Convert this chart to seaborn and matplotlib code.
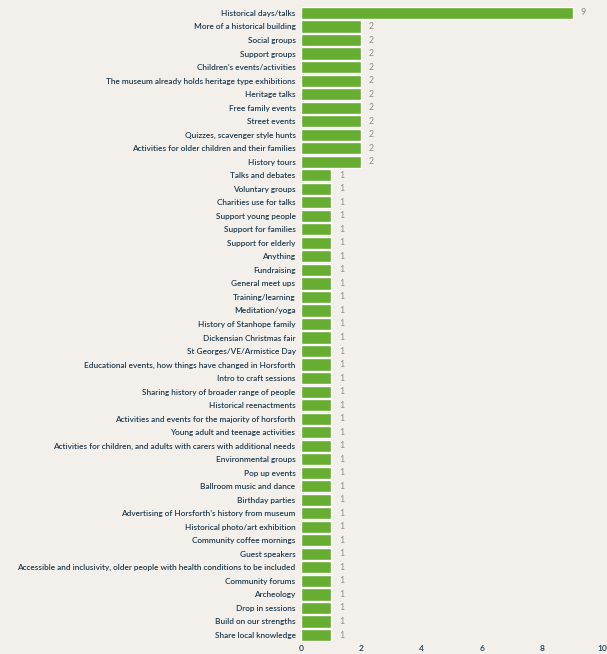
import matplotlib
matplotlib.use("Agg")
import matplotlib.pyplot as plt
import seaborn as sns
import pandas as pd

# ideas for the museum, counted
labels = [
    "Historical days/talks",
    "More of a historical building",
    "Social groups",
    "Support groups",
    "Children's events/activities",
    "The museum already holds heritage type exhibitions",
    "Heritage talks",
    "Free family events",
    "Street events",
    "Quizzes, scavenger style hunts",
    "Activities for older children and their families",
    "History tours",
    "Talks and debates",
    "Voluntary groups",
    "Charities use for talks",
    "Support young people",
    "Support for families",
    "Support for elderly",
    "Anything",
    "Fundraising",
    "General meet ups",
    "Training/learning",
    "Meditation/yoga",
    "History of Stanhope family",
    "Dickensian Christmas fair",
    "St Georges/VE/Armistice Day",
    "Educational events, how things have changed in Horsforth",
    "Intro to craft sessions",
    "Sharing history of broader range of people",
    "Historical reenactments",
    "Activities and events for the majority of horsforth",
    "Young adult and teenage activities",
    "Activities for children, and adults with carers with additional needs",
    "Environmental groups",
    "Pop up events",
    "Ballroom music and dance",
    "Birthday parties",
    "Advertising of Horsforth's history from museum",
    "Historical photo/art exhibition",
    "Community coffee mornings",
    "Guest speakers",
    "Accessible and inclusivity, older people with health conditions to be included",
    "Community forums",
    "Archeology",
    "Drop in sessions",
    "Build on our strengths",
    "Share local knowledge",
]
counts = [9] + [2] * 11 + [1] * 35
x_ticks = [0, 2, 4, 6, 8, 10]

df = pd.DataFrame({"idea": labels, "count": counts})

bg = "#f3f0ec"
sns.set_theme(style="white")
plt.rcParams["font.family"] = ["Lato", "DejaVu Sans"]

fig = plt.figure(figsize=(6.07, 6.54), dpi=100, facecolor=bg)
ax = fig.add_axes([0.496, 0.0187, 0.497, 0.9718])
ax.set_facecolor(bg)

sns.barplot(data=df, x="count", y="idea", color="#66ad32", saturation=1,
            width=0.9, orient="h", ax=ax)

for i, v in enumerate(df["count"]):
    ax.text(v + 0.25, i, str(v), va="center", ha="left", fontsize=6.3, color="#8c8c8c")

ax.set_xlim(0, 10)
ax.set_xticks(x_ticks)
ax.set_xlabel("")
ax.set_ylabel("")
ax.tick_params(axis="y", length=0, pad=4, labelsize=5.95, labelcolor="#1f3b4d")
ax.tick_params(axis="x", length=0, pad=2, labelsize=6.1, labelcolor="#1f3b4d")
for t in ax.get_yticklabels() + ax.get_xticklabels():
    t.set_fontweight("semibold")
sns.despine(ax=ax, left=True, bottom=True)

fig.savefig("out.png", dpi=100, facecolor=bg)
